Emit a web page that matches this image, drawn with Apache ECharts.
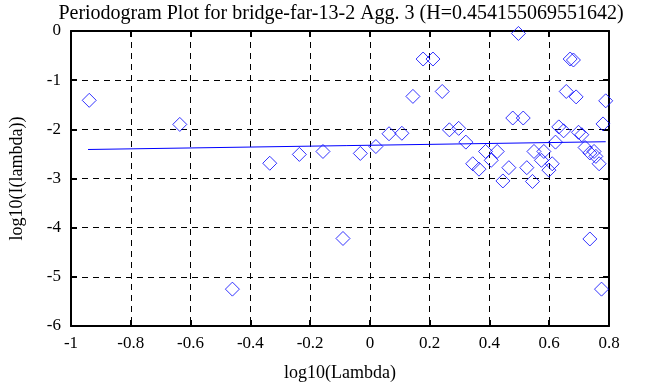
<!DOCTYPE html>
<html>
<head>
<meta charset="utf-8">
<script src="https://cdn.jsdelivr.net/npm/echarts@6/dist/echarts.min.js"></script>
<style>html,body{margin:0;padding:0;background:#fff}#c{width:668px;height:387px}</style>
</head>
<body>
<div id="c"></div>
<script>
var titleText = 'Periodogram Plot for bridge-far-13-2 Agg. 3 (H=0.454155069551642)';
var xTickLabels = ['-1','-0.8','-0.6','-0.4','-0.2','0','0.2','0.4','0.6','0.8'];
var yTickLabels = ['-6','-5','-4','-3','-2','-1','0'];
var ptX = [-0.939,-0.636,-0.46,-0.335,-0.236,-0.157,-0.090,-0.032,0.020,0.064,0.107,0.144,0.178,0.211,0.242,0.266,0.297,0.321,0.344,0.365,0.387,0.406,0.426,0.445,0.465,0.478,0.497,0.513,0.525,0.544,0.549,0.574,0.582,0.599,0.610,0.621,0.632,0.648,0.657,0.670,0.681,0.690,0.698,0.709,0.720,0.736,0.736,0.750,0.756,0.767,0.775,0.780,0.789];
var ptY = [-1.41,-1.90,-5.25,-2.69,-2.51,-2.45,-4.22,-2.49,-2.35,-2.09,-2.08,-1.33,-0.57,-0.57,-1.23,-2.01,-1.98,-2.26,-2.70,-2.81,-2.45,-2.63,-2.45,-3.05,-2.78,-1.77,-0.05,-1.77,-2.78,-3.06,-2.45,-2.63,-2.45,-2.83,-2.70,-2.26,-1.95,-2.03,-1.23,-0.57,-0.59,-1.34,-2.06,-2.11,-2.37,-2.48,-4.23,-2.45,-2.55,-2.70,-5.25,-1.89,-1.42];
var fitX = [-0.943, 0.789];
var fitY = [-2.410, -2.252];

var pts = ptX.map(function(x,i){return [x, ptY[i]];});
var fit = fitX.map(function(x,i){return [x, fitY[i]];});
var font = 'Liberation Serif';
function fmtX(v){ var i = Math.round((v + 1) / 0.2); return xTickLabels[i] !== undefined ? xTickLabels[i] : ''; }
function fmtY(v){ var i = Math.round(v + 6); return yTickLabels[i] !== undefined ? yTickLabels[i] : ''; }

var chart = echarts.init(document.getElementById('c'), null, {renderer:'canvas'});
var axisCommon = {
  axisLine:{show:true, onZero:false, lineStyle:{color:'#000', width:2}},
  axisTick:{show:true, inside:true, length:6, lineStyle:{color:'#000', width:2}}
};
chart.setOption({
  animation:false,
  backgroundColor:'#fff',
  title:{text:titleText, left:336, top:-1, textAlign:'center',
    textStyle:{fontFamily:font, fontSize:20, fontWeight:'normal', color:'#000'}},
  grid:{left:63, top:31, width:546, height:300, show:false},
  xAxis:[
    Object.assign({type:'value', min:-1, max:0.8, interval:0.2, position:'bottom',
      name:'log10(Lambda)', nameLocation:'middle', nameGap:38,
      nameTextStyle:{fontFamily:font, fontSize:18, color:'#000'},
      axisLabel:{formatter:fmtX, fontFamily:font, fontSize:17, color:'#000', margin:9},
      splitLine:{show:true, lineStyle:{color:'#000', type:[6,5], width:1}}}, axisCommon),
    Object.assign({type:'value', min:-1, max:0.8, interval:0.2, position:'top',
      axisLabel:{show:false}, splitLine:{show:false}}, axisCommon)
  ],
  yAxis:[
    Object.assign({type:'value', min:-6, max:0, interval:1, position:'left',
      name:'log10(I(lambda))', nameLocation:'middle', nameGap:45,
      nameTextStyle:{fontFamily:font, fontSize:18, color:'#000'},
      axisLabel:{formatter:fmtY, fontFamily:font, fontSize:17, color:'#000', margin:10},
      splitLine:{show:true, lineStyle:{color:'#000', type:[6,5], width:1}}}, axisCommon),
    Object.assign({type:'value', min:-6, max:0, interval:1, position:'right',
      axisLabel:{show:false}, splitLine:{show:false}}, axisCommon)
  ],
  series:[
    {type:'scatter', data:pts, symbol:'diamond', symbolSize:14,
      itemStyle:{color:'rgba(0,0,0,0)', borderColor:'#0000ff', borderWidth:1}, z:3},
    {type:'line', data:fit, symbol:'none', lineStyle:{color:'#0000ff', width:1}, z:4}
  ]
});
</script>
</body>
</html>
